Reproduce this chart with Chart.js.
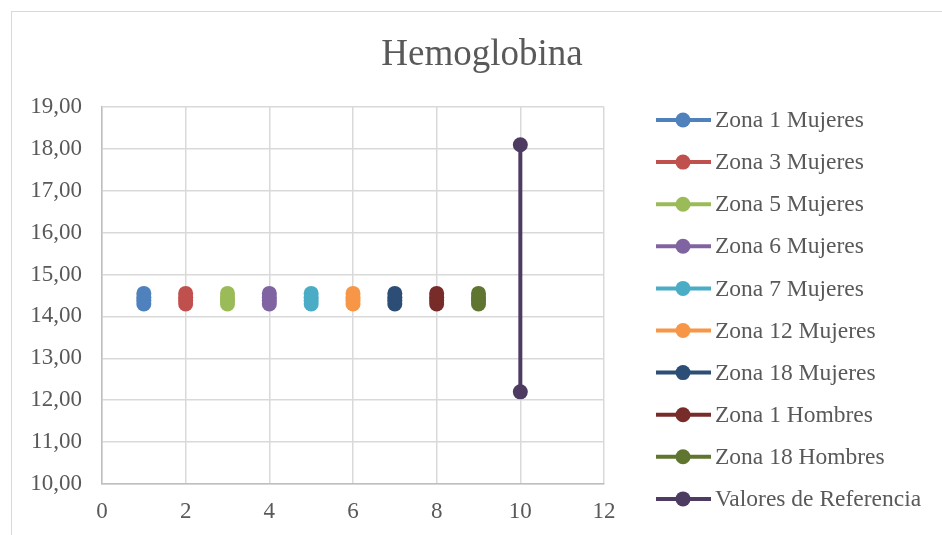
<!DOCTYPE html>
<html>
<head>
<meta charset="utf-8">
<script src="https://cdn.jsdelivr.net/npm/chart.js@4"></script>
<style>
  html, body { margin: 0; padding: 0; background: #fff; }
  #wrap { position: relative; width: 942px; height: 535px; overflow: hidden; }
  #frame { position: absolute; left: 11px; top: 11px; width: 1000px; height: 600px;
           border-left: 1px solid #d9d9d9; border-top: 1px solid #d9d9d9; }
  canvas { position: absolute; left: 0; top: 0; }
</style>
</head>
<body>
<div id="wrap">
  <div id="frame"></div>
  <canvas id="c" width="942" height="535"></canvas>
</div>
<script>
// ---- Data ----
const chartTitle = "Hemoglobina";
const seriesNames = ["Zona 1 Mujeres","Zona 3 Mujeres","Zona 5 Mujeres","Zona 6 Mujeres","Zona 7 Mujeres","Zona 12 Mujeres","Zona 18 Mujeres","Zona 1 Hombres","Zona 18 Hombres","Valores de Referencia"];
const seriesX = [1,2,3,4,5,6,7,8,9,10];
const zona1Mujeres   = [14.30, 14.38, 14.46, 14.55];
const zona3Mujeres   = [14.30, 14.38, 14.46, 14.55];
const zona5Mujeres   = [14.30, 14.38, 14.46, 14.55];
const zona6Mujeres   = [14.30, 14.38, 14.46, 14.55];
const zona7Mujeres   = [14.30, 14.38, 14.46, 14.55];
const zona12Mujeres  = [14.30, 14.38, 14.46, 14.55];
const zona18Mujeres  = [14.30, 14.38, 14.46, 14.55];
const zona1Hombres   = [14.30, 14.38, 14.46, 14.55];
const zona18Hombres  = [14.30, 14.38, 14.46, 14.55];
const valoresReferencia = [12.2, 18.1];
const seriesValues = [zona1Mujeres, zona3Mujeres, zona5Mujeres, zona6Mujeres, zona7Mujeres, zona12Mujeres, zona18Mujeres, zona1Hombres, zona18Hombres, valoresReferencia];
const seriesColors = ["#4F81BD","#C0504D","#9BBB59","#8064A2","#4BACC6","#F79646","#2C4D75","#772C2A","#5F7530","#4D3B62"];
const xTicks = [0,2,4,6,8,10,12];
const yTicks = [10,11,12,13,14,15,16,17,18,19];

const FONT = "'Liberation Serif', 'Times New Roman', serif";
const TEXT = "#595959";

const datasets = seriesNames.map((name, i) => ({
  label: name,
  data: seriesValues[i].map(v => ({x: seriesX[i], y: v})),
  showLine: true,
  borderColor: seriesColors[i],
  backgroundColor: seriesColors[i],
  borderWidth: 4,
  pointRadius: 7.5,
  pointHoverRadius: 7.5,
  pointBorderWidth: 0,
  pointBackgroundColor: seriesColors[i]
}));

const extras = {
  id: 'extras',
  afterDraw(chart) {
    const ctx = chart.ctx;
    ctx.save();
    // title
    ctx.fillStyle = TEXT;
    ctx.font = "37px " + FONT;
    ctx.textAlign = "center";
    ctx.textBaseline = "middle";
    ctx.fillText(chartTitle, 482, 55);
    // legend
    ctx.font = "23.5px " + FONT;
    ctx.textAlign = "left";
    const y0 = 120, dy = 42.1;
    chart.data.datasets.forEach((ds, i) => {
      const y = y0 + i * dy;
      ctx.strokeStyle = ds.borderColor;
      ctx.lineWidth = 4;
      ctx.beginPath();
      ctx.moveTo(656, y);
      ctx.lineTo(711, y);
      ctx.stroke();
      ctx.fillStyle = ds.borderColor;
      ctx.beginPath();
      ctx.arc(683, y, 7.5, 0, Math.PI * 2);
      ctx.fill();
      ctx.fillStyle = TEXT;
      ctx.fillText(ds.label, 715, y + 1);
    });
    ctx.restore();
  }
};

new Chart(document.getElementById('c'), {
  type: 'scatter',
  data: { datasets },
  options: {
    responsive: false,
    animation: false,
    devicePixelRatio: 1,
    layout: { padding: { top: 107, right: 338, left: 0, bottom: 0 } },
    plugins: { legend: { display: false }, title: { display: false }, tooltip: { enabled: false } },
    scales: {
      x: {
        type: 'linear',
        min: xTicks[0], max: xTicks[xTicks.length - 1],
        afterBuildTicks: s => { s.ticks = xTicks.map(v => ({value: v})); },
        afterFit: s => { s.height = 51; },
        ticks: { color: TEXT, font: { family: FONT, size: 23 }, padding: 14, maxRotation: 0 },
        grid: { color: "#d9d9d9", lineWidth: 1.5, drawTicks: false },
        border: { color: "#bfbfbf", width: 1.5 }
      },
      y: {
        type: 'linear',
        min: yTicks[0], max: yTicks[yTicks.length - 1],
        afterBuildTicks: s => { s.ticks = yTicks.map(v => ({value: v})); },
        afterFit: s => { s.width = 102; },
        ticks: { color: TEXT, font: { family: FONT, size: 23 }, padding: 20,
                 callback: v => v.toFixed(2).replace('.', ',') },
        grid: { color: "#d9d9d9", lineWidth: 1.5, drawTicks: false },
        border: { color: "#bfbfbf", width: 1.5 }
      }
    }
  },
  plugins: [extras]
});
</script>
</body>
</html>
